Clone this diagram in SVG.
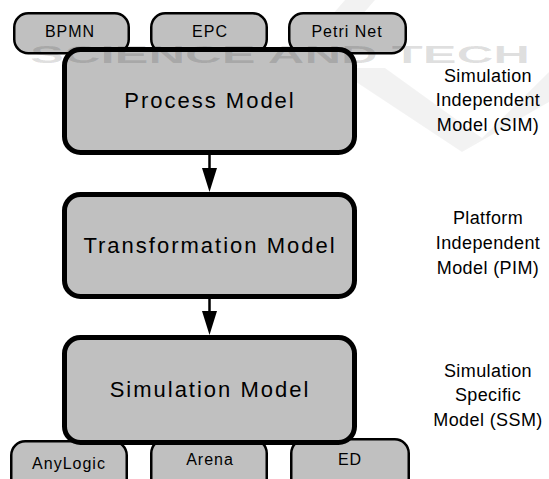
<svg xmlns="http://www.w3.org/2000/svg" width="549" height="479" viewBox="0 0 549 479">
<style>
.small{fill:#c0c0c0;stroke:#000;stroke-width:2.5}
.big{fill:#c0c0c0;stroke:#000;stroke-width:5}
.t{font-family:"Liberation Sans",Arial,sans-serif;fill:#000;text-anchor:middle}
.st{font-size:16px;letter-spacing:1px}
.bt{font-size:22px;letter-spacing:2px}
.side{font-size:18px;letter-spacing:0.4px}
.wm{font-family:"Liberation Sans",Arial,sans-serif;font-size:24px;font-weight:bold;fill:#000;fill-opacity:0.13}
.wms{fill:#000;fill-opacity:0.05}
</style>
<rect width="549" height="479" fill="#fff"/>
<g id="watermark-logo">
<polygon class="wms" points="335,68 385,68 482,138 462,152"/>
<polygon class="wms" points="462,152 482,138 549,72 549,102"/>
<polygon class="wms" points="345,0 375,0 335,46 305,46"/>
</g>
<g id="bpmn"><rect class="small" x="14.25" y="13.25" width="114.5" height="40" rx="14"/><text class="t st" x="70" y="37">BPMN</text></g>
<g id="epc"><rect class="small" x="151.25" y="13.25" width="115.5" height="40" rx="14"/><text class="t st" x="210" y="37">EPC</text></g>
<g id="petri"><rect class="small" x="289.25" y="13.25" width="116.5" height="40" rx="14"/><text class="t st" x="347" y="37">Petri Net</text></g>
<g id="anylogic"><rect class="small" x="11.25" y="441.25" width="115.5" height="60" rx="14"/><text class="t st" x="69" y="469">AnyLogic</text></g>
<g id="arena"><rect class="small" x="151.25" y="439.25" width="115.5" height="60" rx="14"/><text class="t st" x="210" y="465">Arena</text></g>
<g id="ed"><rect class="small" x="291.25" y="439.25" width="117.5" height="60" rx="14"/><text class="t st" x="350" y="465">ED</text></g>
<g id="process"><rect class="big" x="64.5" y="49.5" width="290" height="103" rx="16"/><text class="t bt" x="210" y="108">Process Model</text></g>
<g id="transformation"><rect class="big" x="64.5" y="194.5" width="290" height="102" rx="16"/><text class="t bt" x="210" y="253">Transformation Model</text></g>
<g id="simulation"><rect class="big" x="64.5" y="337.5" width="290" height="105" rx="16"/><text class="t bt" x="210" y="397">Simulation Model</text></g>
<g id="connectors">
<line x1="209.5" y1="155" x2="209.5" y2="170" stroke="#000" stroke-width="2.5"/>
<polygon points="202,168 217,168 209.5,192" fill="#000"/>
<line x1="209.5" y1="299" x2="209.5" y2="313" stroke="#000" stroke-width="2.5"/>
<polygon points="202,311 217,311 209.5,335" fill="#000"/>
</g>
<g id="labels">
<text class="t side" x="488" y="82">Simulation</text>
<text class="t side" x="488" y="106">Independent</text>
<text class="t side" x="488" y="131">Model (SIM)</text>
<text class="t side" x="488" y="224">Platform</text>
<text class="t side" x="488" y="249">Independent</text>
<text class="t side" x="488" y="274">Model (PIM)</text>
<text class="t side" x="488" y="377">Simulation</text>
<text class="t side" x="488" y="401">Specific</text>
<text class="t side" x="488" y="426">Model (SSM)</text>
</g>
<g id="watermark">
<text class="wm" x="30" y="63" textLength="500" lengthAdjust="spacingAndGlyphs">SCIENCE AND TECH</text>
</g>
</svg>
